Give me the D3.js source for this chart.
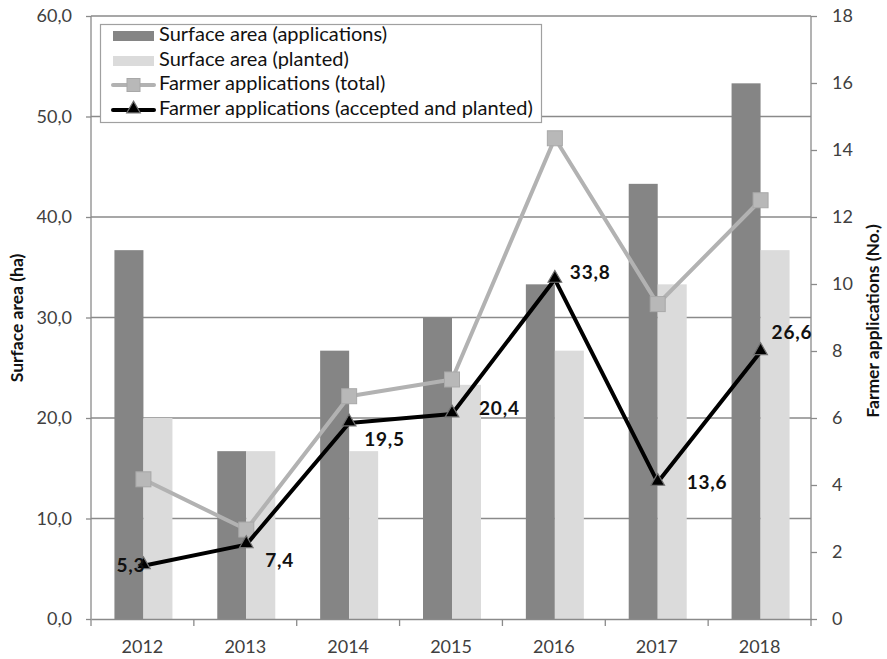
<!DOCTYPE html>
<html>
<head>
<meta charset="utf-8">
<script src="https://cdn.jsdelivr.net/npm/d3@7"></script>
<style>
  body { margin: 0; background: #fff; }
  svg { display: block; font-family: Lato, "Open Sans", sans-serif; }
</style>
</head>
<body>
<svg id="chart" width="887" height="659"></svg>
<script>
// ---- data ----
const years = ["2012", "2013", "2014", "2015", "2016", "2017", "2018"];
const areaApplications = [36.7, 16.7, 26.7, 30.0, 33.3, 43.3, 53.3];   // ha
const areaPlanted      = [20.0, 16.7, 16.7, 23.3, 26.7, 33.3, 36.7];   // ha
const farmersTotal     = [4.17, 2.67, 6.65, 7.15, 14.35, 9.4, 12.5];   // No. (right axis)
const farmersAccepted  = [5.3, 7.4, 19.5, 20.4, 33.8, 13.6, 26.6];     // labelled values (left axis)
const leftTicks  = [0, 10, 20, 30, 40, 50, 60];
const rightTicks = [0, 2, 4, 6, 8, 10, 12, 14, 16, 18];
const seriesNames = ["Surface area (applications)", "Surface area (planted)",
                     "Farmer applications (total)", "Farmer applications (accepted and planted)"];

// label placement (layout only): [dx, dy, anchor]
const labelOffsets = [[2, 1, "end"], [19, 17, "start"], [15, 18, "start"], [27, -4, "start"],
                      [15, -5, "start"], [29, 2, "start"], [11, -18, "start"]];

// ---- layout ----
const svg = d3.select("#chart");
const L = 91, R = 811, T = 16, B = 619;
const x = d3.scaleBand().domain(years).range([L, R]).padding(0);
const yL = d3.scaleLinear().domain([0, 60]).range([B, T]);
const yR = d3.scaleLinear().domain([0, 18]).range([B, T]);
const barW = 29;
const cx = d => x(d) + x.bandwidth() / 2 + 1;

const axisColor = "#8a8a8a";
const textColor = "#404040";

// gridlines
svg.append("g").selectAll("line").data(leftTicks.filter(t => t > 0)).join("line")
  .attr("x1", L).attr("x2", R)
  .attr("y1", d => yL(d)).attr("y2", d => yL(d))
  .attr("stroke", axisColor).attr("stroke-width", 1.3);

// bars
const bars = svg.append("g");
bars.selectAll(".ba").data(years).join("rect")
  .attr("x", d => cx(d) - barW).attr("width", barW)
  .attr("y", (d, i) => yL(areaApplications[i]))
  .attr("height", (d, i) => B - yL(areaApplications[i]))
  .attr("fill", "#858585");
bars.selectAll(".bp").data(years).join("rect")
  .attr("x", d => cx(d)).attr("width", barW)
  .attr("y", (d, i) => yL(areaPlanted[i]))
  .attr("height", (d, i) => B - yL(areaPlanted[i]))
  .attr("fill", "#dbdbdb");

// left axis
const gL = svg.append("g").attr("transform", `translate(${L},0)`)
  .call(d3.axisLeft(yL).tickValues(leftTicks).tickSize(5).tickPadding(14)
        .tickFormat(d => d3.format(".1f")(d).replace(".", ",")));
// right axis
const gR = svg.append("g").attr("transform", `translate(${R},0)`)
  .call(d3.axisRight(yR).tickValues(rightTicks).tickSize(6).tickPadding(15));
// bottom axis
const gB = svg.append("g").attr("transform", `translate(0,${B})`)
  .call(d3.axisBottom(x).tickSize(0).tickPadding(21));
gB.append("g").selectAll("line").data(d3.range(years.length + 1)).join("line")
  .attr("x1", i => L + i * x.step()).attr("x2", i => L + i * x.step())
  .attr("y1", 0).attr("y2", 7).attr("stroke", axisColor).attr("stroke-width", 1.3);

[gL, gR, gB].forEach(g => {
  g.select(".domain").attr("stroke", axisColor).attr("stroke-width", 1.3);
  g.selectAll(".tick line").attr("stroke", axisColor).attr("stroke-width", 1.3);
  g.selectAll("text").attr("fill", textColor).style("font-size", "18px").style("font-family", "Lato, sans-serif");
});
gR.select(".domain").attr("d", `M0,${B}V${T}`);
gL.select(".domain").attr("d", `M0,${B}V${T}`);

// gray line (total)
const lineR = d3.line().x((d, i) => cx(years[i])).y(d => yR(d));
svg.append("path").datum(farmersTotal).attr("d", lineR)
  .attr("fill", "none").attr("stroke", "#b2b2b2").attr("stroke-width", 4).attr("stroke-linejoin", "round");
svg.append("g").selectAll("rect").data(farmersTotal).join("rect")
  .attr("x", (d, i) => cx(years[i]) - 7.5).attr("y", d => yR(d) - 7.5)
  .attr("width", 15).attr("height", 15)
  .attr("fill", "#b8b8b8").attr("stroke", "#a8a8a8").attr("stroke-width", 1);

// black line (accepted)
const lineL = d3.line().x((d, i) => cx(years[i])).y(d => yL(d));
svg.append("path").datum(farmersAccepted).attr("d", lineL)
  .attr("fill", "none").attr("stroke", "#000").attr("stroke-width", 4).attr("stroke-linejoin", "round");
const tri = d3.symbol().type(d3.symbolTriangle).size(80);
svg.append("g").selectAll("path").data(farmersAccepted).join("path")
  .attr("d", tri)
  .attr("transform", (d, i) => `translate(${cx(years[i])},${yL(d) - 1})`)
  .attr("fill", "#000").attr("stroke", "#707070").attr("stroke-width", 1.2);

// data labels
svg.append("g").selectAll("text").data(farmersAccepted).join("text")
  .attr("x", (d, i) => cx(years[i]) + labelOffsets[i][0])
  .attr("y", (d, i) => yL(d) + labelOffsets[i][1])
  .attr("text-anchor", (d, i) => labelOffsets[i][2])
  .attr("dominant-baseline", "middle")
  .style("font-size", "19px").style("font-weight", "bold").style("letter-spacing", "0.8px")
  .attr("fill", "#111")
  .text(d => d3.format(".1f")(d).replace(".", ","));

// axis titles
svg.append("text")
  .attr("transform", `translate(23,318) rotate(-90)`)
  .attr("text-anchor", "middle")
  .style("font-size", "17.5px").style("font-weight", "bold").attr("fill", "#111")
  .text("Surface area (ha)");
svg.append("text")
  .attr("transform", `translate(879,321) rotate(-90)`)
  .attr("text-anchor", "middle")
  .style("font-size", "17.5px").style("font-weight", "bold").attr("fill", "#111")
  .text("Farmer applications (No.)");

// legend
const lg = svg.append("g");
lg.append("rect").attr("x", 100.5).attr("y", 24.5).attr("width", 441).attr("height", 98)
  .attr("fill", "#fff").attr("stroke", "#a0a0a0").attr("stroke-width", 1.2);
const rowY = [36, 61, 85, 110];
const sx = 113, sw = 41;
lg.append("rect").attr("x", sx).attr("y", rowY[0] - 5).attr("width", sw).attr("height", 10).attr("fill", "#858585");
lg.append("rect").attr("x", sx).attr("y", rowY[1] - 5).attr("width", sw).attr("height", 10).attr("fill", "#dbdbdb");
lg.append("line").attr("x1", sx).attr("x2", sx + sw).attr("y1", rowY[2]).attr("y2", rowY[2])
  .attr("stroke", "#b2b2b2").attr("stroke-width", 4).attr("stroke-linecap", "round");
lg.append("rect").attr("x", sx + sw / 2 - 6.5).attr("y", rowY[2] - 6.5).attr("width", 13).attr("height", 13)
  .attr("fill", "#b8b8b8").attr("stroke", "#a8a8a8");
lg.append("line").attr("x1", sx).attr("x2", sx + sw).attr("y1", rowY[3]).attr("y2", rowY[3])
  .attr("stroke", "#000").attr("stroke-width", 4).attr("stroke-linecap", "round");
lg.append("path").attr("d", tri).attr("transform", `translate(${sx + sw / 2},${rowY[3] - 1})`)
  .attr("fill", "#000").attr("stroke", "#707070").attr("stroke-width", 1.2);
lg.selectAll(".lt").data(seriesNames).join("text")
  .attr("x", 159).attr("y", (d, i) => rowY[i]).attr("dominant-baseline", "middle")
  .style("font-size", "20px").attr("fill", "#111")
  .text(d => d);
</script>
</body>
</html>
